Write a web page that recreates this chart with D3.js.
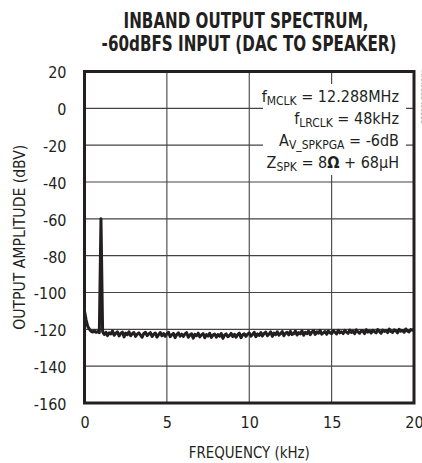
<!DOCTYPE html>
<html>
<head>
<meta charset="utf-8">
<script src="https://cdn.jsdelivr.net/npm/d3@7"></script>
<style>
  html, body { margin: 0; padding: 0; background: #fff; }
  svg { display: block; }
  text { font-family: "Liberation Sans Narrow", "DejaVu Sans Condensed", "Arial Narrow", sans-serif; fill: #231f20; }
</style>
</head>
<body>
<svg id="chart" width="422" height="463"></svg>
<script>
// ---------- data ----------
const titleLines = ["INBAND OUTPUT SPECTRUM,", "-60dBFS INPUT (DAC TO SPEAKER)"];
const xLabel = "FREQUENCY (kHz)";
const yLabel = "OUTPUT AMPLITUDE (dBV)";
const xTicks = [0, 5, 10, 15, 20];
const yTicks = [20, 0, -20, -40, -60, -80, -100, -120, -140, -160];
const freqStepKHz = 0.1;
// amplitude (dBV) at 0.0, 0.1, 0.2 ... 20.0 kHz
const amplitude = [
  -110, -115, -118.5, -120, -121, -121.5, -120.8, -121.6, -121.2, -121.8,
  -60,
  -121.3, -122.8, -121.6, -123.4, -121.9, -122.5, -120.9, -123.2, -122.1,
  -121.4, -123.6, -122.2, -121.5, -124.1, -122, -122.9, -121.3, -123.5, -122.4,
  -121.7, -123.8, -122.6, -121.9, -123.1, -124.3, -122.2, -121.6, -123.4, -122.5,
  -121.8, -123.9, -122.7, -122, -124.2, -122.9, -121.7, -123.5, -122.3, -123.8,
  -122.4, -121.6, -124, -123, -122.2, -124.5, -122.8, -121.9, -123.7, -122.6,
  -123.9, -122.5, -121.8, -124.3, -123.1, -122.4, -124.8, -122.7, -123.5, -122.1,
  -124.1, -123, -122.3, -124.6, -122.9, -123.6, -122.2, -124.4, -123.1, -122.6,
  -124.2, -122.8, -123.7, -122.3, -124.9, -123.2, -122.5, -124, -123.4, -122.2,
  -123.9, -122.7, -124.3, -122.9, -122.1, -124.5, -123, -122.4, -123.8, -122.6,
  -121.9, -123.7, -122.8, -121.6, -124, -122.5, -123.3, -121.8, -123.6, -122.2,
  -121.5, -123.4, -122.6, -121.4, -123.8, -122, -122.9, -121.3, -123.2, -122.4,
  -121.2, -123.5, -122.1, -121.6, -123, -121.1, -122.8, -122.3, -120.9, -123.1,
  -121.8, -122.5, -120.8, -123.2, -121.6, -122.4, -121, -122.9, -121.5, -120.7,
  -122.8, -121.3, -122.1, -120.6, -122.6, -121.9, -121.2, -122.7, -120.9, -121.8,
  -122.4, -120.7, -121.6, -122.5, -120.5, -121.9, -121.3, -122.3, -120.6, -121.5,
  -122.2, -120.4, -121.7, -121.1, -122.4, -120.3, -121.4, -122.1, -120.8, -121,
  -122.3, -120.2, -121.5, -120.9, -122, -120.5, -121.3, -121.9, -120.1, -121.2,
  -122.1, -120.4, -121.1, -120.7, -121.8, -119.9, -121.2, -121.7, -120.3, -120.8,
  -121.9, -120, -121, -120.6, -121.6, -119.8, -120.9, -121.4, -120.1, -120.5, -119.7
];
const notes = [
  [{t: "f"}, {t: "MCLK", sub: true}, {t: " = 12.288MHz"}],
  [{t: "f"}, {t: "LRCLK", sub: true}, {t: " = 48kHz"}],
  [{t: "A"}, {t: "V_SPKPGA", sub: true}, {t: " = -6dB"}],
  [{t: "Z"}, {t: "SPK", sub: true}, {t: " = 8"}, {t: "Ω", bold: true}, {t: " + 68µH"}]
];
const sideId = "MAX9888 toc116";

// ---------- layout ----------
const ink = "#231f20";
const L = 84.5, R = 414, T = 71.5, B = 403;
const svg = d3.select("#chart");

const x = d3.scaleLinear().domain([0, 20]).range([L, R]);
const y = d3.scaleLinear().domain([-160, 20]).range([B, T]);

// title (condensed by horizontal scaling to the reference widths)
const titleCx = [246, 249], titleY = [28, 51], titleW = [245, 295];
svg.selectAll("text.title").data(titleLines).join("text")
  .attr("class", "title")
  .attr("text-anchor", "middle")
  .attr("font-size", 21)
  .attr("font-weight", "bold")
  .text(d => d)
  .each(function(d, i) {
    const w = this.getComputedTextLength();
    const s = Math.min(1, titleW[i] / w);
    d3.select(this).attr("transform", `translate(${titleCx[i]},${titleY[i]}) scale(${s},1)`);
  });

// grid
const grid = svg.append("g").attr("stroke", "#444").attr("stroke-width", 1.1);
grid.selectAll("line.h").data(yTicks.filter(v => v > -160 && v < 20)).join("line")
  .attr("x1", L).attr("x2", R).attr("y1", d => y(d)).attr("y2", d => y(d));
grid.selectAll("line.v").data(xTicks.filter(v => v > 0 && v < 20)).join("line")
  .attr("y1", T).attr("y2", B).attr("x1", d => x(d)).attr("x2", d => x(d));

// axes (labels only, via d3 axes)
const yAxis = svg.append("g").attr("transform", `translate(${L},0)`)
  .call(d3.axisLeft(y).tickValues(yTicks).tickFormat(d => String(d)).tickSize(0).tickPadding(18));
const xAxis = svg.append("g").attr("transform", `translate(0,${B})`)
  .call(d3.axisBottom(x).tickValues(xTicks).tickFormat(d => String(d)).tickSize(0).tickPadding(14));
[yAxis, xAxis].forEach(g => {
  g.select(".domain").remove();
  g.selectAll("text").attr("font-size", 16).attr("fill", ink)
    .attr("font-family", '"Liberation Sans Narrow", "DejaVu Sans Condensed", sans-serif');
});
yAxis.selectAll("text").attr("dy", "0.4em");

// annotation box
svg.append("rect").attr("x", 263).attr("y", 84).attr("width", 143).attr("height", 91).attr("fill", "#fff");
const noteG = svg.append("g");
notes.forEach((parts, i) => {
  const t = noteG.append("text")
    .attr("x", 399).attr("y", 102 + i * 22)
    .attr("text-anchor", "end").attr("font-size", 16);
  parts.forEach((p, j) => {
    const s = t.append("tspan").text(p.t);
    if (p.sub) s.attr("font-size", 12).attr("dy", 3);
    else if (j > 0 && parts[j - 1].sub) s.attr("dy", -3);
    if (p.bold) s.attr("font-weight", "bold");
  });
});

// data line
const pts = amplitude.map((v, i) => [i * freqStepKHz, v]);
svg.append("path").datum(pts)
  .attr("fill", "none").attr("stroke", ink).attr("stroke-width", 3)
  .attr("stroke-linejoin", "round")
  .attr("d", d3.line().x(d => x(d[0])).y(d => y(d[1])));

// frame
svg.append("rect").attr("x", L).attr("y", T).attr("width", R - L).attr("height", B - T)
  .attr("fill", "none").attr("stroke", ink).attr("stroke-width", 3);

// axis titles
svg.append("text").attr("x", (L + R) / 2).attr("y", 458).attr("text-anchor", "middle")
  .attr("font-size", 16).attr("textLength", 121).attr("lengthAdjust", "spacingAndGlyphs").text(xLabel);
svg.append("text").attr("transform", `translate(25,${(T + B) / 2}) rotate(-90)`)
  .attr("text-anchor", "middle").attr("font-size", 16)
  .attr("textLength", 185).attr("lengthAdjust", "spacingAndGlyphs").text(yLabel);

// side id
svg.append("text").attr("transform", "translate(421,70) rotate(90)")
  .attr("font-size", 7).style("fill", "#999").text(sideId);
</script>
</body>
</html>
